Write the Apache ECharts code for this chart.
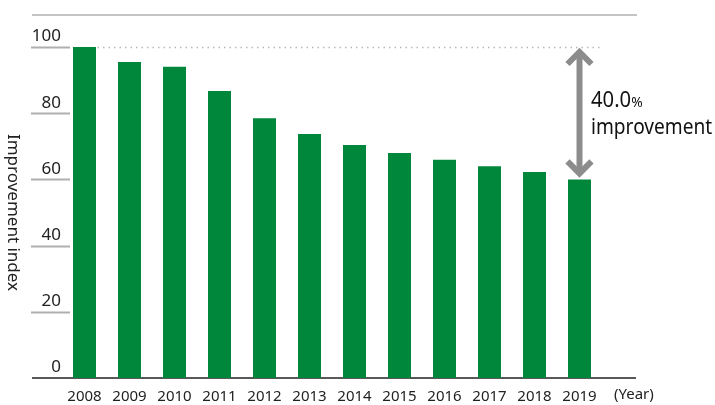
<!DOCTYPE html>
<html>
<head>
<meta charset="utf-8">
<script src="https://cdn.jsdelivr.net/npm/echarts@6/dist/echarts.min.js"></script>
<style>
  html, body { margin: 0; padding: 0; background: #fff; }
  #chart { width: 715px; height: 405px; }
</style>
</head>
<body>
<div id="chart"></div>
<script>
// Improvement index by fiscal year (2008 = 100)
const years = ['2008', '2009', '2010', '2011', '2012', '2013', '2014', '2015', '2016', '2017', '2018', '2019'];
const indexValues = [100, 95.5, 94.0, 86.7, 78.5, 73.7, 70.4, 68.0, 65.9, 64.0, 62.2, 60.0];
const yTicks = [0, 20, 40, 60, 80, 100];

const FONT = '"Noto Sans", "Open Sans", sans-serif';
const GREEN = '#00873c';
const GREY_ARROW = '#8c8c8c';

const first = indexValues[0];
const last = indexValues[indexValues.length - 1];
const improvementPct = ((first - last) / first * 100).toFixed(1);

const chart = echarts.init(document.getElementById('chart'), null, { renderer: 'canvas' });

chart.setOption({
  animation: false,
  backgroundColor: '#fff',
  grid: { left: 62, width: 540, top: 47, bottom: 27, containLabel: false, outerBoundsMode: 'none' },
  xAxis: {
    type: 'category',
    data: years,
    axisLine: { show: false },
    axisTick: { show: false },
    axisLabel: { color: '#222', fontFamily: FONT, fontSize: 15, margin: 11, interval: 0 },
    name: '(Year)',
    nameLocation: 'end',
    nameGap: 12,
    nameTextStyle: { color: '#222', fontFamily: FONT, fontSize: 15, verticalAlign: 'top', padding: [9, 0, 0, 0] }
  },
  yAxis: {
    type: 'value',
    min: 0,
    max: 100,
    interval: 20,
    axisLine: { show: false },
    axisTick: { show: false },
    splitLine: { show: false },
    axisLabel: {
      color: '#222', fontFamily: FONT, fontSize: 17, margin: 1,
      align: 'right', verticalAlign: 'bottom', padding: [0, 0, 2, 0]
    },
    name: 'Improvement index',
    nameLocation: 'middle',
    nameRotate: -90,
    nameGap: 37,
    nameTextStyle: { color: '#222', fontFamily: FONT, fontSize: 17 }
  },
  series: [{
    type: 'bar',
    data: indexValues,
    barWidth: 23,
    itemStyle: { color: GREEN }
  }]
});

// Decorative rules, tick marks and the improvement arrow, placed from axis coordinates
function drawOverlay() {
  const px = (i, v) => chart.convertToPixel({ seriesIndex: 0 }, [i, v]);
  const yOf = v => chart.convertToPixel({ yAxisIndex: 0 }, v);
  const y0 = yOf(0);
  const yTop = yOf(first);
  const yLast = yOf(last);
  const xFirst = px(0, first)[0];
  const xLast = px(indexValues.length - 1, last)[0];
  const elements = [];

  // top rule
  elements.push({
    type: 'line', shape: { x1: 32, y1: 15, x2: 637, y2: 15 },
    style: { stroke: '#c4c4c4', lineWidth: 2 }, silent: true
  });
  // baseline
  elements.push({
    type: 'line', shape: { x1: 32, y1: y0, x2: 636, y2: y0 },
    style: { stroke: '#222', lineWidth: 1.5 }, silent: true
  });
  // short tick rules under each y label
  yTicks.filter(t => t > 0).forEach(t => {
    const y = Math.round(yOf(t)) + 0.5;
    elements.push({
      type: 'line', shape: { x1: 31, y1: y, x2: 70, y2: y },
      style: { stroke: '#b0b0b0', lineWidth: 2 }, silent: true
    });
  });
  // dotted reference at the base-year level
  elements.push({
    type: 'line', shape: { x1: xFirst + 13, y1: Math.round(yTop) + 0.5, x2: 603, y2: Math.round(yTop) + 0.5 },
    style: { stroke: '#b8b8b8', lineWidth: 1.5, lineDash: [1.5, 4] }, silent: true
  });
  // double-headed arrow spanning the improvement
  const tipTop = yTop + 2;
  const tipBot = yLast - 3;
  const arrowStyle = { stroke: GREY_ARROW, lineWidth: 6, fill: null, lineJoin: 'miter', lineCap: 'butt' };
  elements.push({
    type: 'line', shape: { x1: xLast, y1: tipTop + 3, x2: xLast, y2: tipBot - 3 },
    style: arrowStyle, silent: true
  });
  elements.push({
    type: 'polyline', shape: { points: [[xLast - 12, tipTop + 15], [xLast, tipTop + 3], [xLast + 12, tipTop + 15]] },
    style: arrowStyle, silent: true
  });
  elements.push({
    type: 'polyline', shape: { points: [[xLast - 12, tipBot - 15], [xLast, tipBot - 3], [xLast + 12, tipBot - 15]] },
    style: arrowStyle, silent: true
  });
  // annotation text
  elements.push({
    type: 'text', x: 591, y: 101, scaleX: 0.92, silent: true,
    style: {
      text: '{n|' + improvementPct + '}{p|%}',
      verticalAlign: 'middle', align: 'left',
      rich: {
        n: { fontFamily: FONT, fontSize: 22, fill: '#111', verticalAlign: 'bottom' },
        p: { fontFamily: FONT, fontSize: 15, fill: '#111', verticalAlign: 'bottom', padding: [0, 0, 2, 0] }
      }
    }
  });
  elements.push({
    type: 'text', x: 591, y: 128, scaleX: 0.87, silent: true,
    style: {
      text: 'improvement', fontFamily: FONT, fontSize: 22, fill: '#111',
      verticalAlign: 'middle', align: 'left'
    }
  });

  chart.setOption({ graphic: { elements: elements } });
}

drawOverlay();
</script>
</body>
</html>
